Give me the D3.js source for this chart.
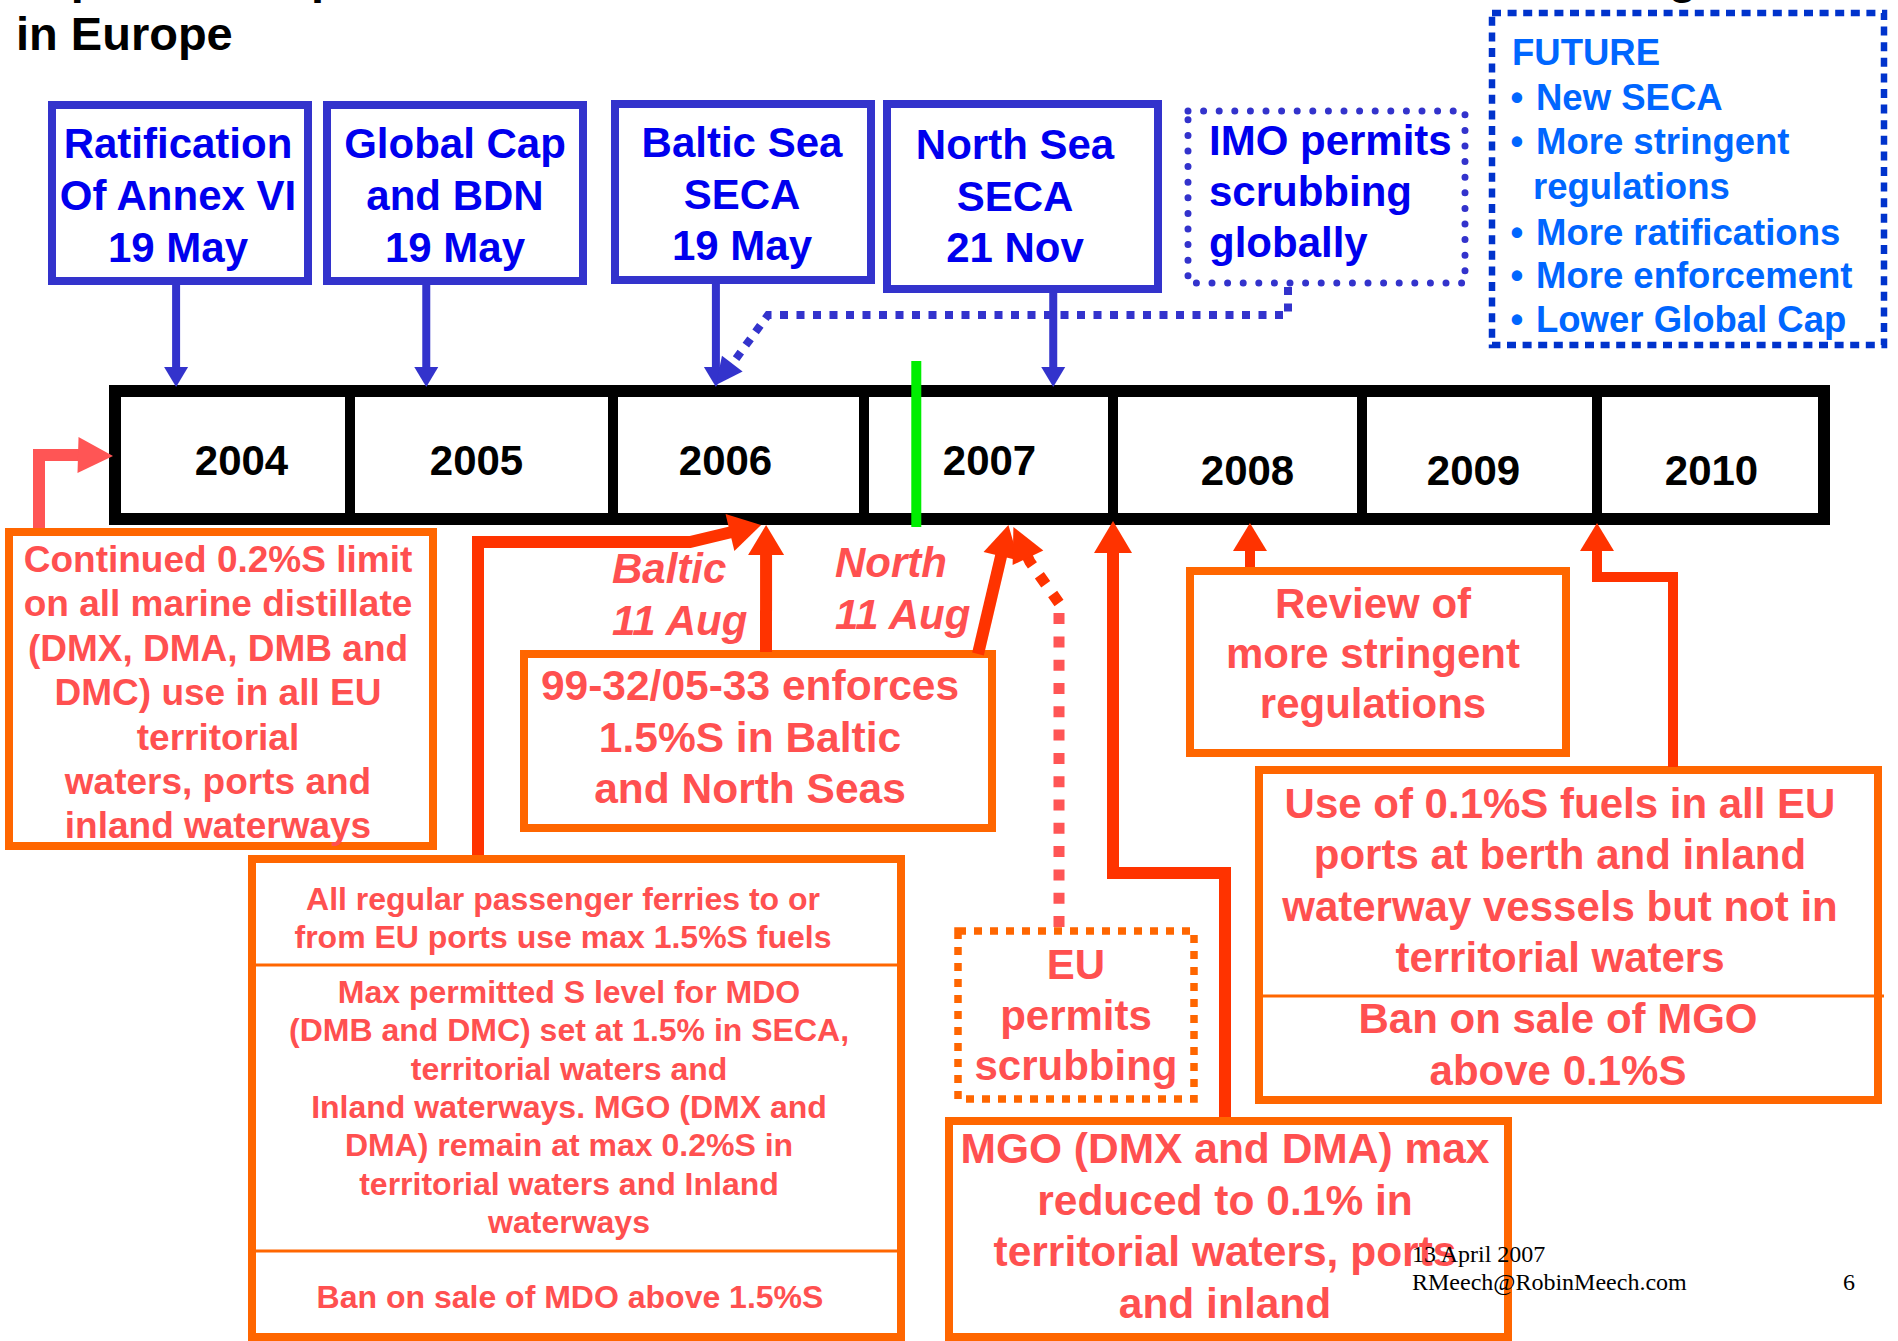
<!DOCTYPE html>
<html><head><meta charset="utf-8">
<script src="https://cdn.jsdelivr.net/npm/d3@7"></script>
<style>html,body{margin:0;padding:0;background:#fff;overflow:hidden} svg{display:block}</style>
</head><body><svg id="c" width="1898" height="1341"></svg>
<script>
// ================= DATA =================
const titleLines = ["Impact of Sulphur Limits on Marine Distillate Fuels and their Overall Timing", "in Europe"];
const years = [2004, 2005, 2006, 2007, 2008, 2009, 2010];
const yearEdges = [2004, 2005, 2006, 2007, 2008, 2009, 2010, 2011];
const todayAt = 2007.21;                       // green "now" marker
const imoEvents = [
  {lines: ["Ratification", "Of Annex VI", "19 May"], at: 2004.26},
  {lines: ["Global Cap", "and BDN", "19 May"], at: 2005.29},
  {lines: ["Baltic Sea", "SECA", "19 May"], at: 2006.41},
  {lines: ["North Sea", "SECA", "21 Nov"], at: 2007.76}
];
const imoScrubLines = ["IMO permits", "scrubbing", "globally"];
const imoScrubAt = 2006.41;
const futureHeading = "FUTURE";
const futureItems = [["New SECA"], ["More stringent", "regulations"], ["More ratifications"], ["More enforcement"], ["Lower Global Cap"]];
const euLimitLines = ["Continued 0.2%S limit", "on all marine distillate", "(DMX, DMA, DMB and", "DMC) use in all EU", "territorial", "waters, ports and", "inland waterways"];
const euLimitAt = 2004.0;
const enforceLines = ["99-32/05-33 enforces", "1.5%S in Baltic", "and North Seas"];
const sulphurDates = [
  {lines: ["Baltic", "11 Aug"], at: 2006.61},
  {lines: ["North", "11 Aug"], at: 2007.58}
];
const ferryAt = 2006.59;
const reviewLines = ["Review of", "more stringent", "regulations"];
const reviewAt = 2008.55;
const berthLines = ["Use of 0.1%S fuels in all EU", "ports at berth and inland", "waterway vessels but not in", "territorial waters"];
const berthBanLines = ["Ban on sale of MGO", "above 0.1%S"];
const berthAt = 2010.0;
const euScrubLines = ["EU", "permits", "scrubbing"];
const euScrubAt = 2007.60;
const mgoLines = ["MGO (DMX and DMA) max", "reduced to 0.1% in", "territorial waters, ports", "and inland"];
const mgoAt = 2008.0;
const ferryLines = ["All regular passenger ferries to or", "from EU ports use max 1.5%S fuels"];
const mdoLines = ["Max permitted S level for MDO", "(DMB and DMC) set at 1.5% in SECA,", "territorial waters and", "Inland waterways. MGO (DMX and", "DMA) remain at max 0.2%S in", "territorial waters and Inland", "waterways"];
const mdoBanLines = ["Ban on sale of MDO above 1.5%S"];
const footerLines = ["13 April 2007", "RMeech@RobinMeech.com"];
const pageNo = "6";

// ================= LAYOUT / STYLE =================
const C = {
  blueBorder: "#3333cc", blueText: "#0000ee", futBorder: "#0033cc", futText: "#0066ff",
  orange: "#ff6600", redText: "#ff5050", arrow: "#ff3300", coral: "#ff5555", green: "#00ee00"
};
const FONT = "'Liberation Sans', Arial, Helvetica, sans-serif";
const edgePx = [115, 350, 613, 864, 1113, 1362, 1597, 1824];
const tl = {top: 391, bottom: 519, sw: 12, div: 10};
const yearLabelShift = [9, -5, -13, 1, 10, -6, 1];
const yearLabelBase = [475, 475, 475, 475, 485, 485, 485];
const blueBoxes = [
  {x: 52, y: 105, w: 256, h: 176, cx: 178, b0: 158, lh: 52},
  {x: 327, y: 105, w: 256, h: 176, cx: 455, b0: 158, lh: 52},
  {x: 615, y: 104, w: 256, h: 176, cx: 742, b0: 157, lh: 51.5},
  {x: 887, y: 104, w: 271, h: 185, cx: 1015, b0: 159, lh: 51.5}
];

const svg = d3.select("#c");
const x = d3.scaleLinear().domain(yearEdges).range(edgePx);

function textLines(g, lines, o) {
  lines.forEach((t, i) => {
    g.append("text")
      .attr("x", o.x).attr("y", o.y0 + i * o.lh)
      .attr("text-anchor", o.anchor || "middle")
      .attr("font-family", o.family || FONT)
      .attr("font-weight", o.weight || "bold")
      .attr("font-style", o.style || "normal")
      .attr("font-size", o.size)
      .attr("fill", o.fill)
      .text(t);
  });
}
function box(g, b, stroke, sw, dash, cap) {
  const r = g.append("rect").attr("x", b.x).attr("y", b.y).attr("width", b.w).attr("height", b.h)
    .attr("fill", "none").attr("stroke", stroke).attr("stroke-width", sw);
  if (dash) r.attr("stroke-dasharray", dash).attr("stroke-linecap", cap || "butt");
  return r;
}
function arrow(g, pts, tip, L, W, color, sw, dash) {
  const last = pts[pts.length - 1];
  let ux = tip[0] - last[0], uy = tip[1] - last[1];
  const n = Math.hypot(ux, uy); ux /= n; uy /= n;
  const bx = tip[0] - L * ux, by = tip[1] - L * uy;
  const path = d3.path();
  path.moveTo(pts[0][0], pts[0][1]);
  pts.slice(1).forEach(p => path.lineTo(p[0], p[1]));
  path.lineTo(bx + 3 * ux, by + 3 * uy);
  const p = g.append("path").attr("d", path.toString()).attr("fill", "none")
    .attr("stroke", color).attr("stroke-width", sw).attr("stroke-linejoin", "miter");
  if (dash) p.attr("stroke-dasharray", dash);
  const nx = -uy, ny = ux;
  g.append("path").attr("d", d3.line()([[tip[0], tip[1]], [bx + nx * W / 2, by + ny * W / 2], [bx - nx * W / 2, by - ny * W / 2]]) + "Z")
    .attr("fill", color);
}

// ================= TITLE =================
textLines(svg, titleLines, {x: 16, y0: -7, lh: 57, size: 47, fill: "#000", anchor: "start"});

// ================= BLUE (IMO) BOXES =================
const gTop = svg.append("g");
imoEvents.forEach((e, i) => {
  const b = blueBoxes[i];
  box(gTop, b, C.blueBorder, 8);
  textLines(gTop, e.lines, {x: b.cx, y0: b.b0, lh: b.lh, size: 42, fill: C.blueText});
});
const imoBox = {x: 1188, y: 111, w: 277, h: 172};
box(gTop, imoBox, C.blueBorder, 7, "0 15.6", "round");
textLines(gTop, imoScrubLines, {x: 1209, y0: 155, lh: 51, size: 42, fill: C.blueText, anchor: "start"});

const futBox = {x: 1492, y: 13, w: 392, h: 332};
box(gTop, futBox, C.futBorder, 6.5, "9 6.6");
textLines(gTop, [futureHeading], {x: 1512, y0: 65, lh: 0, size: 36.5, fill: C.futText, anchor: "start"});
const futBase = [110, 154, 199, 245, 288, 332];
let fi = 0;
futureItems.forEach(item => {
  item.forEach((t, j) => {
    if (j === 0) gTop.append("text").attr("x", 1517).attr("y", futBase[fi]).attr("text-anchor", "middle")
      .attr("font-family", FONT).attr("font-weight", "bold").attr("font-size", 36.5).attr("fill", C.futText).text("\u2022");
    gTop.append("text").attr("x", j === 0 ? 1536 : 1533).attr("y", futBase[fi])
      .attr("font-family", FONT).attr("font-weight", "bold").attr("font-size", 36.5).attr("fill", C.futText).text(t);
    fi++;
  });
});

// ================= ORANGE (EU) BOXES =================
const gEU = svg.append("g");
const boxA = {x: 9, y: 532, w: 424, h: 314};
box(gEU, boxA, C.orange, 8);
textLines(gEU, euLimitLines, {x: 218, y0: 572, lh: 44.4, size: 37, fill: C.redText});

const boxB = {x: 524, y: 654, w: 468, h: 174};
box(gEU, boxB, C.orange, 8);
textLines(gEU, enforceLines, {x: 750, y0: 700, lh: 51.5, size: 42.5, fill: C.redText});

const dateLeft = [612, 835], dateBase = [583, 577];
sulphurDates.forEach((d, i) => textLines(gEU, d.lines, {x: dateLeft[i], y0: dateBase[i], lh: 52, size: 42, fill: C.redText, anchor: "start", style: "italic"}));

const boxC = {x: 1190, y: 571, w: 376, h: 182};
box(gEU, boxC, C.orange, 8);
textLines(gEU, reviewLines, {x: 1373, y0: 618, lh: 50, size: 42, fill: C.redText});

const boxD = {x: 1259, y: 770, w: 619, h: 330};
box(gEU, boxD, C.orange, 8);
gEU.append("line").attr("x1", 1263).attr("x2", 1884).attr("y1", 996).attr("y2", 996).attr("stroke", C.orange).attr("stroke-width", 3);
textLines(gEU, berthLines, {x: 1560, y0: 818, lh: 51.3, size: 42, fill: C.redText});
textLines(gEU, berthBanLines, {x: 1558, y0: 1033, lh: 52, size: 42, fill: C.redText});

const boxE = {x: 958, y: 931, w: 236, h: 168};
box(gEU, boxE, C.orange, 7.5, "8 8");
textLines(gEU, euScrubLines, {x: 1076, y0: 979, lh: 50.5, size: 42, fill: C.redText});

const boxF = {x: 949, y: 1121, w: 559, h: 216};
box(gEU, boxF, C.orange, 8);
textLines(gEU, mgoLines, {x: 1225, y0: 1163, lh: 51.5, size: 42.5, fill: C.redText});

const boxG = {x: 252, y: 859, w: 649, h: 478};
box(gEU, boxG, C.orange, 8);
[965, 1251].forEach(yy => gEU.append("line").attr("x1", 254).attr("x2", 899).attr("y1", yy).attr("y2", yy).attr("stroke", C.orange).attr("stroke-width", 3));
textLines(gEU, ferryLines, {x: 563, y0: 910, lh: 38, size: 32, fill: C.redText});
textLines(gEU, mdoLines, {x: 569, y0: 1003, lh: 38.3, size: 32, fill: C.redText});
textLines(gEU, mdoBanLines, {x: 570, y0: 1308, lh: 38, size: 32, fill: C.redText});

// ================= TIMELINE =================
const gTL = svg.append("g");
gTL.append("rect").attr("x", x(2004)).attr("y", tl.top).attr("width", x(2011) - x(2004)).attr("height", tl.bottom - tl.top)
  .attr("fill", "#fff").attr("stroke", "#000").attr("stroke-width", tl.sw);
years.slice(1).forEach(yv => gTL.append("line").attr("x1", x(yv)).attr("x2", x(yv)).attr("y1", tl.top).attr("y2", tl.bottom)
  .attr("stroke", "#000").attr("stroke-width", tl.div));
years.forEach((yv, i) => gTL.append("text").attr("x", (x(yv) + x(yv + 1)) / 2 + yearLabelShift[i]).attr("y", yearLabelBase[i])
  .attr("text-anchor", "middle").attr("font-family", FONT).attr("font-weight", "bold").attr("font-size", 42).attr("fill", "#000").text(yv));
gTL.append("line").attr("x1", x(todayAt)).attr("x2", x(todayAt)).attr("y1", 361).attr("y2", 527)
  .attr("stroke", C.green).attr("stroke-width", 10);

// ================= ARROWS =================
const gA = svg.append("g");
imoEvents.forEach((e, i) => {
  const b = blueBoxes[i], ax = x(e.at);
  arrow(gA, [[ax, b.y + b.h + 4]], [ax, 387], 20, 24, C.blueBorder, 8);
});
arrow(gA, [[1288, 287], [1288, 315], [768, 315], [735, 360]], [x(imoScrubAt), 385], 27, 26, C.blueBorder, 8, "8 8.5");

arrow(gA, [[39, 528], [39, 455], [78, 455]], [x(euLimitAt) - 2, 456], 35, 36, C.coral, 12);
arrow(gA, [[478, 855], [478, 542], [690, 542]], [x(ferryAt), 525], 32, 38, C.arrow, 12);
arrow(gA, [[766, 652]], [x(sulphurDates[0].at), 525], 30, 36, C.arrow, 12);
arrow(gA, [[978, 654]], [x(sulphurDates[1].at), 525], 32, 36, C.arrow, 12);
gA.append("path").attr("d", "M1059,927V612").attr("stroke", C.coral).attr("stroke-width", 11).attr("stroke-dasharray", "11 12.3").attr("fill", "none");
arrow(gA, [[1059, 603], [1030, 562]], [x(euScrubAt), 527], 34, 34, C.arrow, 11, "11 12");
arrow(gA, [[1225, 1117], [1225, 873], [1113, 873]], [x(mgoAt), 521], 32, 38, C.arrow, 12);
arrow(gA, [[1250, 567]], [x(reviewAt), 523], 28, 34, C.arrow, 10);
arrow(gA, [[1673, 767], [1673, 577], [1597, 577]], [x(berthAt), 523], 28, 34, C.arrow, 10);

// ================= FOOTER =================
const gF = svg.append("g");
textLines(gF, footerLines, {x: 1412, y0: 1262, lh: 28, size: 24, fill: "#000", anchor: "start", weight: "normal", family: "'Liberation Serif', 'Times New Roman', serif"});
gF.append("text").attr("x", 1843).attr("y", 1290).attr("font-family", "'Liberation Serif', 'Times New Roman', serif").attr("font-size", 24).text(pageNo);
</script></body></html>
